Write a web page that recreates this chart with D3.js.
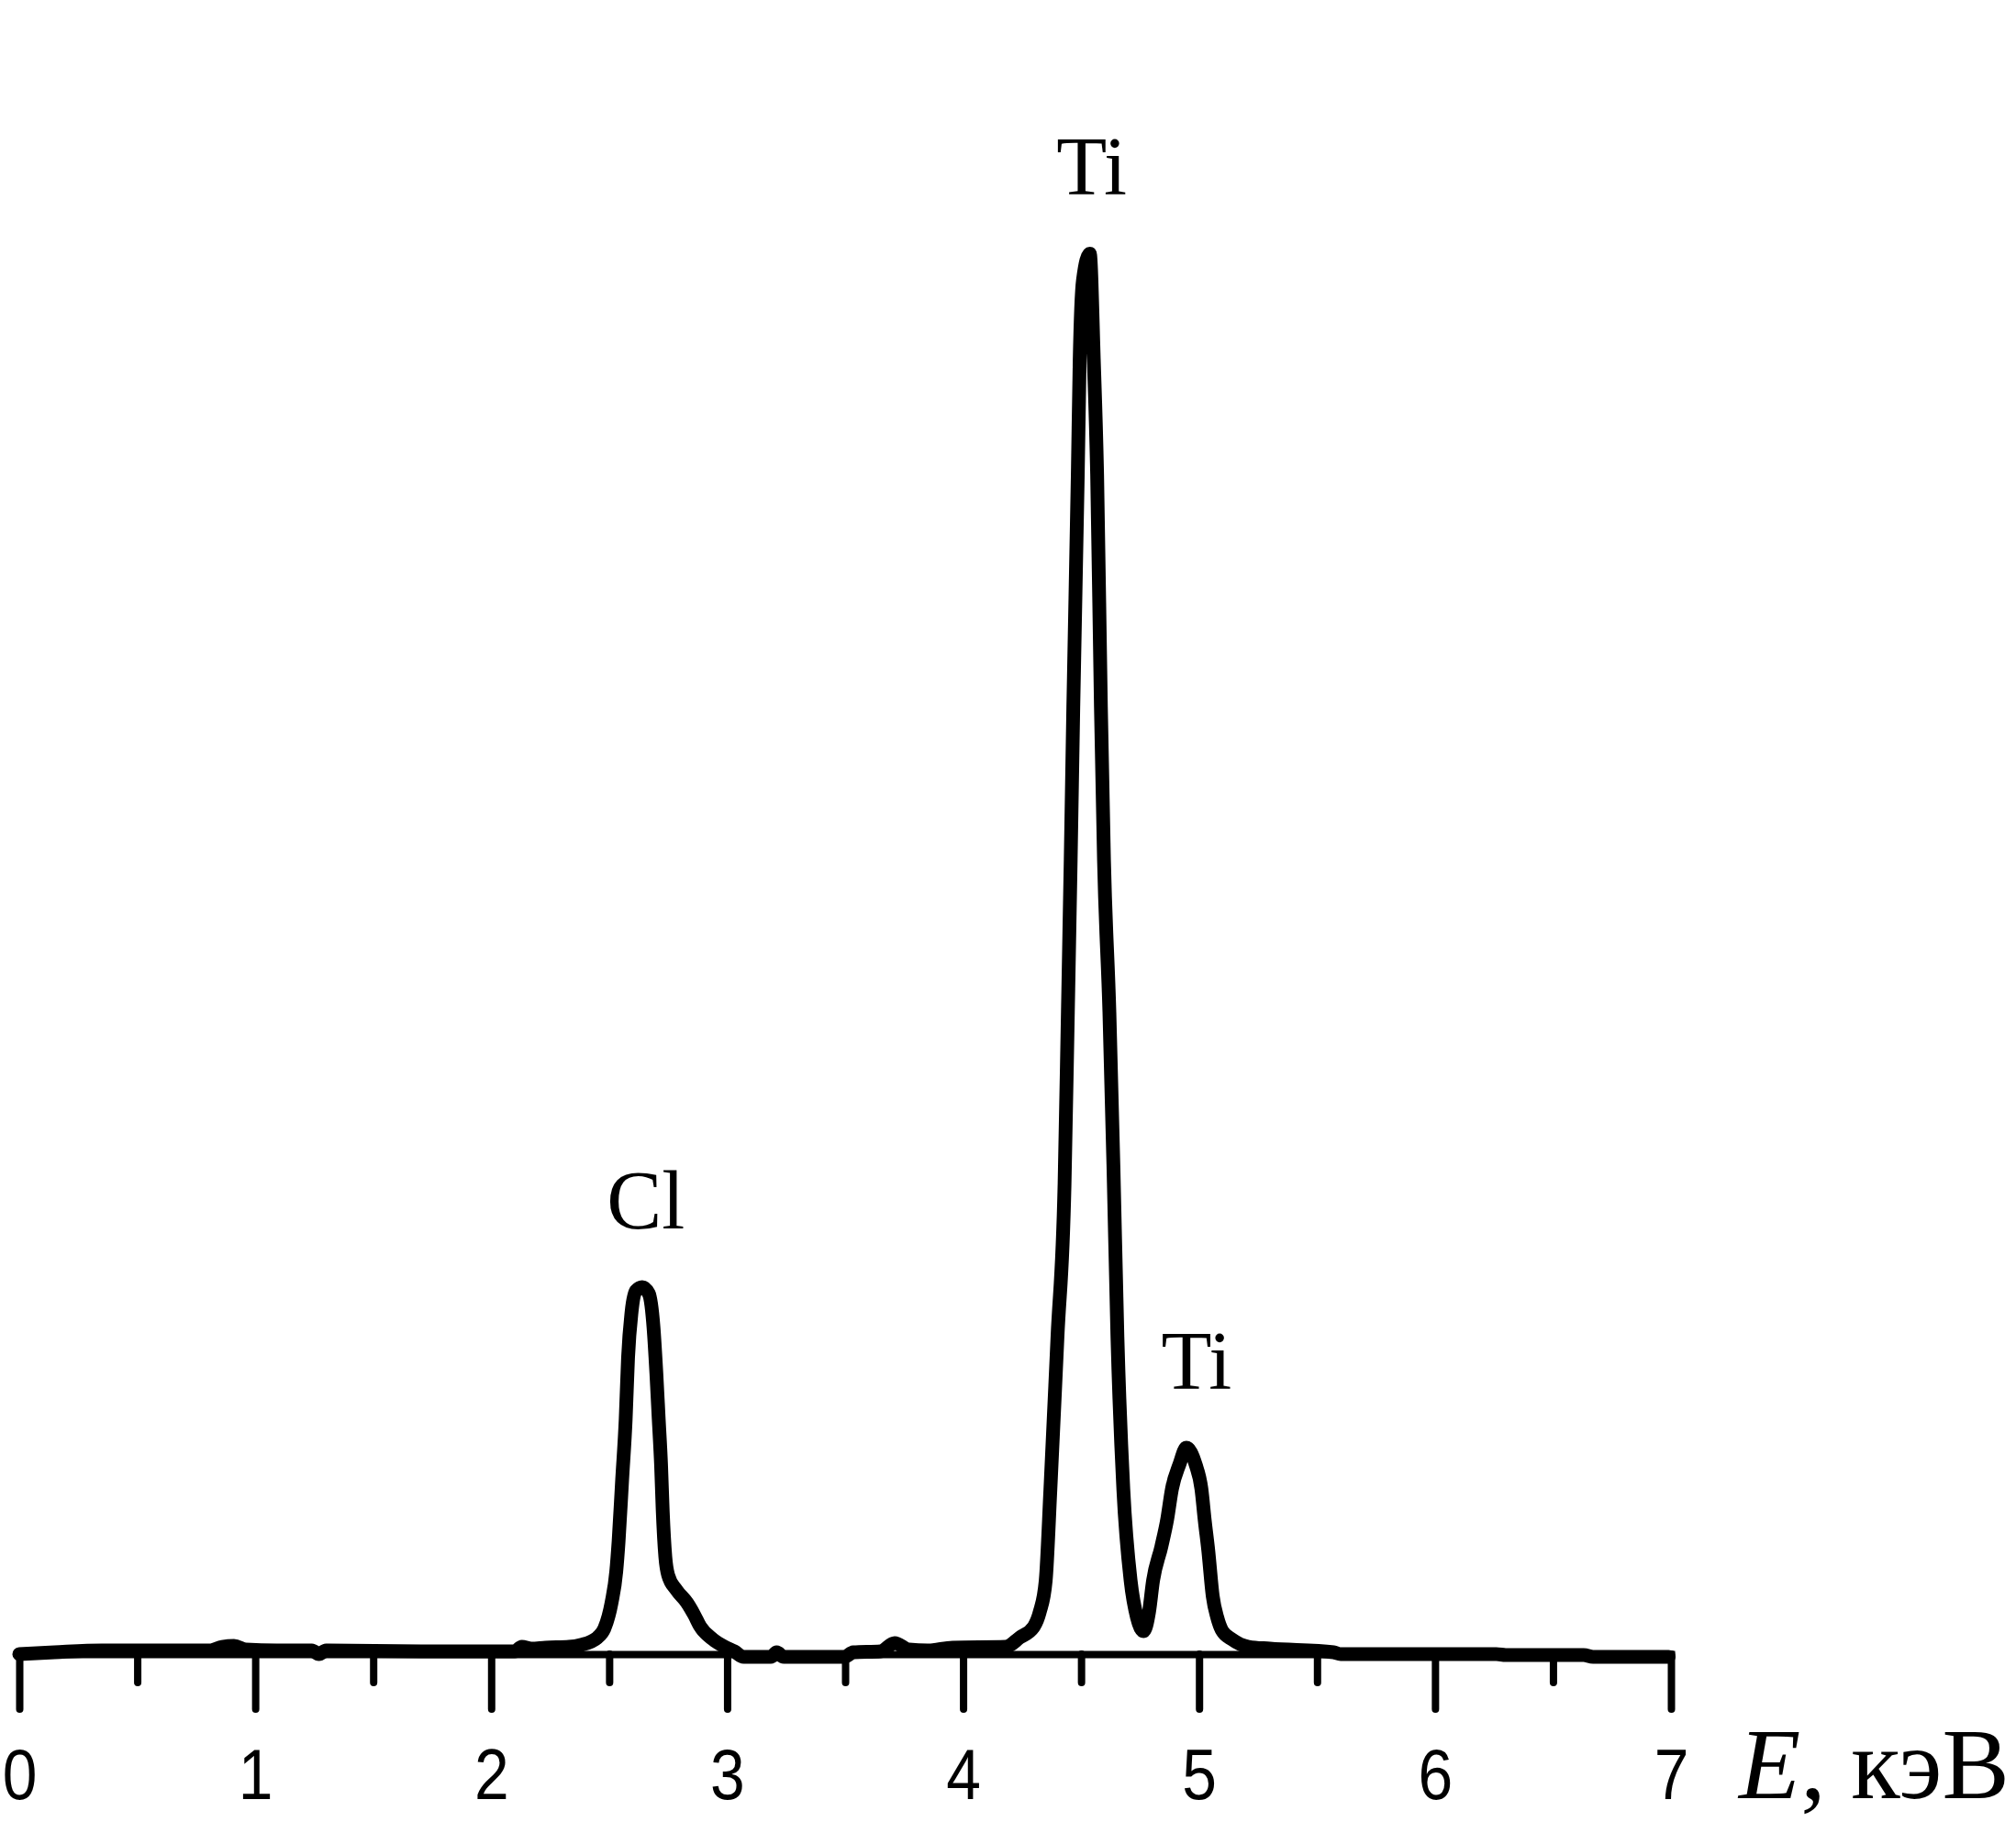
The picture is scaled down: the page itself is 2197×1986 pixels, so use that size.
<!DOCTYPE html>
<html><head><meta charset="utf-8">
<script src="https://cdn.jsdelivr.net/npm/d3@7"></script>
<style>html,body{margin:0;padding:0;background:#fff;} svg{display:block;}</style>
</head><body>
<svg id="chart" width="2197" height="1986"></svg>
<script>
// ---- data (energy in keV, intensity in arbitrary units) ----
const energy = [0.00,0.15,0.35,0.81,0.86,0.91,0.96,1.09,1.24,1.27,1.30,1.71,2.10,2.13,2.17,2.23,2.33,2.38,
  2.45,2.48,2.51,2.53,2.54,2.555,2.57,2.58,2.595,2.614,2.64,2.668,2.688,2.70,2.71,2.72,2.727,2.738,2.75,
  2.785,2.83,2.86,2.886,2.94,2.99,3.03,3.07,3.185,3.21,3.24,3.497,3.535,3.65,3.71,3.77,3.85,3.955,4.18,
  4.24,4.30,4.325,4.35,4.37,4.40,4.43,4.444,4.456,4.467,4.486,4.494,4.508,4.537,4.554,4.568,4.584,4.597,
  4.62,4.637,4.654,4.679,4.71,4.737,4.765,4.788,4.805,4.84,4.865,4.885,4.917,4.946,4.985,5.01,5.024,5.039,
  5.058,5.077,5.097,5.14,5.21,5.30,5.57,5.60,6.26,6.30,6.63,6.67,6.99];
const counts = [0,1.3,2.6,2.6,5.2,5.9,3.3,2.6,2.6,0,2.6,2.0,2.0,5.2,3.9,4.6,5.2,6.6,
  11.8,18.4,36.7,59,80.7,124.6,167.9,211.8,244.6,259.7,262.3,257.7,233.4,200.7,167.9,135.1,102.3,69.5,56.4,
  45.9,36.7,28.2,19.7,10.5,5.2,2.0,-2.0,-2.0,1.3,-2.0,-2.0,1.3,2.0,7.9,3.3,2.6,4.6,5.2,
  11.8,19.7,30.2,52.5,118,226.9,336.4,459,568,677,843,924.6,982,1001,924.6,843,677,568,
  459,349.5,226.9,118,52.5,26.2,16.4,30.2,52.5,76.7,96.4,118,135.7,147.5,135.7,118,95.7,74.1,
  41.3,26.2,17,10.5,5.2,3.9,1.3,0,0,-0.7,-0.7,-2,-2];
const majorTicks = [0,1,2,3,4,5,6,7];
const minorTicks = [0.5,1.5,2.5,3.5,4.5,5.5,6.5];
const peakLabels = ["Cl","Ti","Ti"];
const peakEnergies = [2.64,4.537,4.946];
const axisSymbol = "E";
const axisUnit = ", кэВ";

const points = energy.map((e,i)=>({e, c: counts[i]}));

const svg = d3.select("#chart");
svg.append("rect").attr("width",2197).attr("height",1986).attr("fill","#fff");

const x = d3.scaleLinear().domain([0,7]).range([21,1821]);
const y = d3.scaleLinear().domain([0,1000]).range([1803,278]);

// minor ticks
const minorAxis = d3.axisBottom(x).tickValues(minorTicks).tickSize(31).tickSizeOuter(0).tickFormat("");
const gMinor = svg.append("g").attr("transform",`translate(0,${y(0)})`).call(minorAxis);
gMinor.select(".domain").remove();
gMinor.selectAll(".tick line").attr("stroke","#000").attr("stroke-width",8).attr("stroke-linecap","round");

// major axis
const majorAxis = d3.axisBottom(x).tickValues(majorTicks).tickSize(60).tickSizeOuter(0).tickFormat(d3.format("d"));
const gAxis = svg.append("g").attr("transform",`translate(0,${y(0)})`).call(majorAxis);
gAxis.select(".domain").attr("stroke","#000").attr("stroke-width",8).attr("stroke-linecap","square");
gAxis.selectAll(".tick line").attr("stroke","#000").attr("stroke-width",8).attr("stroke-linecap","round");
gAxis.selectAll(".tick text")
  .attr("y",0).attr("dy",null)
  .attr("transform","translate(0,158) scale(0.88,1)")
  .attr("fill","#000")
  .style("font-family","'Liberation Sans', Arial, sans-serif")
  .style("font-size","77px");
gAxis.attr("font-family",null).attr("font-size",null);

// axis title
const title = svg.append("text")
  .attr("x", x(7)+74).attr("y", y(0)+157)
  .style("font-family","'Liberation Serif','Times New Roman',serif")
  .style("font-size","110px").attr("fill","#000");
title.append("tspan").style("font-style","italic").text(axisSymbol);
title.append("tspan").text(axisUnit);

// spectrum line
const line = d3.line().x(d=>x(d.e)).y(d=>y(d.c)).curve(d3.curveMonotoneX);
svg.append("path").datum(points)
  .attr("d",line)
  .attr("fill","none").attr("stroke","#000")
  .attr("stroke-width",15).attr("stroke-linejoin","round").attr("stroke-linecap","round");

// peak labels
const labelDx = [4, 2, 11];
peakLabels.forEach((t,i)=>{
  const e = peakEnergies[i];
  const idx = d3.minIndex(energy, v=>Math.abs(v-e));
  svg.append("text")
    .attr("x", x(e)+labelDx[i]).attr("y", y(counts[idx])-64)
    .attr("text-anchor","middle")
    .style("font-family","'Liberation Serif','Times New Roman',serif")
    .style("font-size","90px").attr("fill","#000")
    .text(t);
});
</script>
</body></html>
